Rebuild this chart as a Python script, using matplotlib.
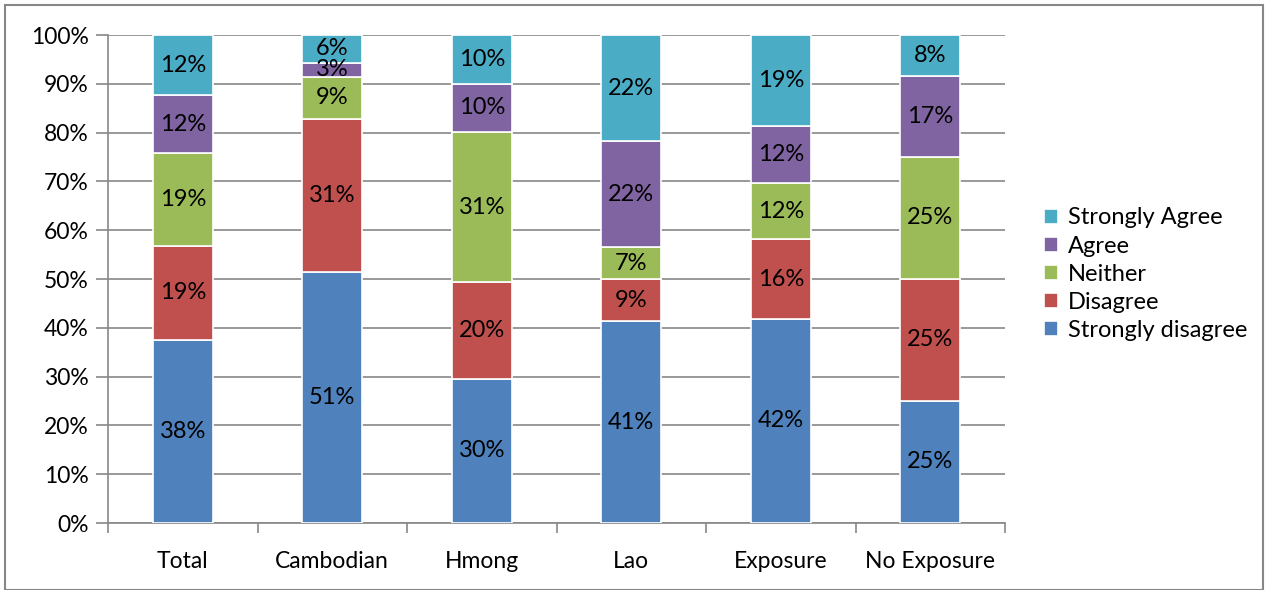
import matplotlib.pyplot as plt
from matplotlib.patches import Rectangle

# categorias e respostas (percentuais de cada grupo)
groups = ['Total', 'Cambodian', 'Hmong', 'Lao', 'Exposure', 'No Exposure']
strongly_disagree = [37.6, 51.4, 29.6, 41.3, 41.9, 25.0]
disagree = [19.1, 31.4, 19.7, 8.6, 16.2, 25.0]
neither = [19.1, 8.6, 30.8, 6.6, 11.6, 25.0]
agree = [11.9, 2.9, 9.9, 21.7, 11.7, 16.7]
strongly_agree = [12.3, 5.7, 10.0, 21.8, 18.6, 8.3]

series = [('Strongly disagree', strongly_disagree, '#4F81BD'),
          ('Disagree', disagree, '#C0504D'),
          ('Neither', neither, '#9BBB59'),
          ('Agree', agree, '#8064A2'),
          ('Strongly Agree', strongly_agree, '#4BACC6')]

plt.rcParams['font.family'] = ['Lato', 'DejaVu Sans']

fig = plt.figure(figsize=(12.65, 5.90), dpi=100)
ax = fig.add_axes([108/1265, 1 - 523/590, 897/1265, 488/590])

xs = list(range(len(groups)))
bottom = [0.0] * len(groups)
handles = []
for name, vals, color in series:
    b = ax.bar(xs, vals, width=0.4, bottom=bottom, color=color,
               edgecolor='white', linewidth=1.2, label=name, zorder=3)
    handles.append(b)
    for x, v, b0 in zip(xs, vals, bottom):
        ax.text(x, b0 + v / 2, '%.0f%%' % v, ha='center', va='center',
                fontsize=17, color='black', zorder=4)
    bottom = [b0 + v for b0, v in zip(bottom, vals)]

ax.set_xlim(-0.5, len(groups) - 0.5)
ax.set_ylim(0, 100)
ax.set_yticks(range(0, 101, 10))
ax.set_yticklabels(['%d%%' % t for t in range(0, 101, 10)], fontsize=16.5)
ax.yaxis.grid(True, color='#878787', linewidth=1.2, zorder=0)

# rotulos no centro, ticks nas divisas entre categorias
ax.set_xticks(xs)
ax.set_xticklabels(groups, fontsize=16.5)
ax.set_xticks([x - 0.5 for x in range(len(groups) + 1)], minor=True)
ax.tick_params(axis='x', which='major', length=0, pad=20)
ax.tick_params(axis='x', which='minor', length=7, width=1.2, color='#878787')
ax.tick_params(axis='y', length=9, width=1.2, color='#878787', pad=5)

for s in ['top', 'right']:
    ax.spines[s].set_visible(False)
for s in ['left', 'bottom']:
    ax.spines[s].set_color('#878787')
    ax.spines[s].set_linewidth(1.2)

leg = ax.legend(handles=handles[::-1], loc='center left',
                bbox_to_anchor=(1023/897 - 108/897, 0.51), frameon=False,
                fontsize=17, handlelength=0.6, handleheight=0.6,
                handletextpad=0.4, labelspacing=0.3)

# moldura do grafico
fig.patches.append(Rectangle((5/1265, 0), 1 - 7/1265, 1 - 5/590,
                             transform=fig.transFigure, fill=False,
                             edgecolor='#878787', linewidth=1.5))

fig.savefig('out.png', dpi=100)
